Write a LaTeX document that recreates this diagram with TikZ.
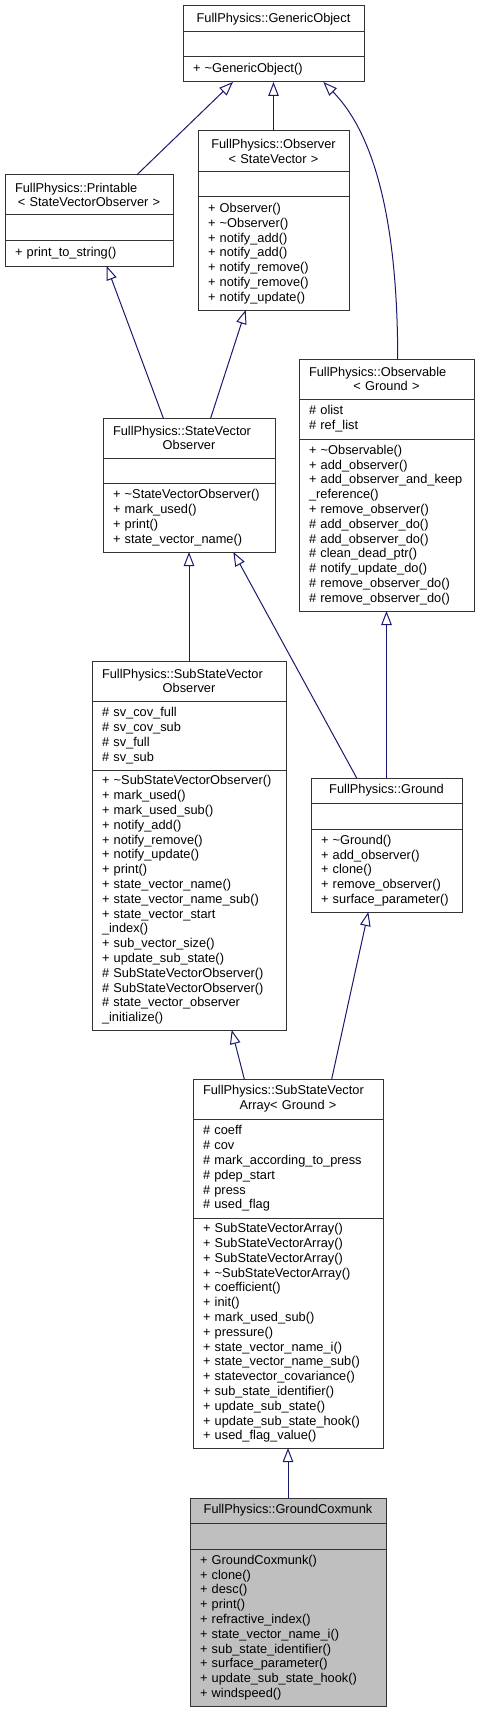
\documentclass[tikz,border=0pt]{standalone}
\usepackage{fontspec}
\setmainfont{Liberation Sans}
\usetikzlibrary{positioning,arrows.meta}
\definecolor{midnightblue}{RGB}{25,25,112}
\definecolor{grey75}{RGB}{191,191,191}
\begin{document}
\begin{tikzpicture}
        [x=1pt,y=-1pt,
        cls/.style={draw=black!80,line width=1pt,fill=white,outer sep=0pt,
            inner xsep=10pt,inner ysep=0pt,anchor=north,
            font=\fontsize{12.8}{14.8}\selectfont},
        ttl/.style={cls,align=center},
        mem/.style={cls,align=left},
        inh/.style={draw=midnightblue,line width=1pt,
            -{Triangle[open,length=14pt,width=10.5pt]}}]
        \useasboundingbox (0,0) rectangle (479,1712);
        % GenericObject
        \node[ttl,text width=161pt,minimum height=26pt] (gobj) at (273.5,6)
            {FullPhysics::GenericObject};
        \node[mem,text width=161pt,minimum height=25pt,below=0pt of gobj] (gobj-a) {};
        \node[mem,text width=161pt,minimum height=25pt,below=0pt of gobj-a] (gobj-m)
            {+ \textasciitilde GenericObject()};
        % Printable
        \node[ttl,text width=148pt,minimum height=40pt] (prt) at (89,175)
            {\makebox[\linewidth][l]{FullPhysics::Printable}\\< StateVectorObserver >};
        \node[mem,text width=148pt,minimum height=26pt,below=0pt of prt] (prt-a) {};
        \node[mem,text width=148pt,minimum height=25pt,below=0pt of prt-a] (prt-m)
            {+ print\_to\_string()};
        % Observer
        \node[ttl,text width=131pt,minimum height=41pt] (obs) at (273.5,131)
            {FullPhysics::Observer\\< StateVector >};
        \node[mem,text width=131pt,minimum height=25pt,below=0pt of obs] (obs-a) {};
        \node[mem,text width=131pt,minimum height=113pt,below=0pt of obs-a] (obs-m)
            {+ Observer()\\+ \textasciitilde Observer()\\+ notify\_add()\\+ notify\_add()\\
            + notify\_remove()\\+ notify\_remove()\\+ notify\_update()};
        % StateVectorObserver
        \node[ttl,text width=152pt,minimum height=40pt] (svo) at (189,418)
            {\makebox[\linewidth][l]{FullPhysics::StateVector}\\Observer};
        \node[mem,text width=152pt,minimum height=25pt,below=0pt of svo] (svo-a) {};
        \node[mem,text width=152pt,minimum height=69pt,below=0pt of svo-a] (svo-m)
            {+ \textasciitilde StateVectorObserver()\\+ mark\_used()\\+ print()\\
            + state\_vector\_name()};
        % Observable
        \node[ttl,text width=155pt,minimum height=40pt] (obl) at (386.5,359)
            {\makebox[\linewidth][l]{FullPhysics::Observable}\\< Ground >};
        \node[mem,text width=155pt,minimum height=40pt,below=0pt of obl] (obl-a)
            {\# olist\\\# ref\_list};
        \node[mem,text width=155pt,minimum height=172pt,below=0pt of obl-a] (obl-m)
            {+ \textasciitilde Observable()\\+ add\_observer()\\+ add\_observer\_and\_keep\\
            \_reference()\\+ remove\_observer()\\\# add\_observer\_do()\\
            \# add\_observer\_do()\\\# clean\_dead\_ptr()\\\# notify\_update\_do()\\
            \# remove\_observer\_do()\\\# remove\_observer\_do()};
        % SubStateVectorObserver
        \node[ttl,text width=174pt,minimum height=40pt] (ssvo) at (189,661)
            {\makebox[\linewidth][l]{FullPhysics::SubStateVector}\\Observer};
        \node[mem,text width=174pt,minimum height=69pt,below=0pt of ssvo] (ssvo-a)
            {\# sv\_cov\_full\\\# sv\_cov\_sub\\\# sv\_full\\\# sv\_sub};
        \node[mem,text width=174pt,minimum height=260pt,below=0pt of ssvo-a] (ssvo-m)
            {+ \textasciitilde SubStateVectorObserver()\\+ mark\_used()\\+ mark\_used\_sub()\\
            + notify\_add()\\+ notify\_remove()\\+ notify\_update()\\+ print()\\
            + state\_vector\_name()\\+ state\_vector\_name\_sub()\\+ state\_vector\_start\\
            \_index()\\+ sub\_vector\_size()\\+ update\_sub\_state()\\
            \# SubStateVectorObserver()\\\# SubStateVectorObserver()\\
            \# state\_vector\_observer\\\_initialize()};
        % Ground
        \node[ttl,text width=131pt,minimum height=25pt] (gnd) at (386.5,778)
            {FullPhysics::Ground};
        \node[mem,text width=131pt,minimum height=26pt,below=0pt of gnd] (gnd-a) {};
        \node[mem,text width=131pt,minimum height=83pt,below=0pt of gnd-a] (gnd-m)
            {+ \textasciitilde Ground()\\+ add\_observer()\\+ clone()\\+ remove\_observer()\\
            + surface\_parameter()};
        % SubStateVectorArray
        \node[ttl,text width=170pt,minimum height=40pt] (ssva) at (288,1079)
            {\makebox[\linewidth][l]{FullPhysics::SubStateVector}\\Array< Ground >};
        \node[mem,text width=170pt,minimum height=99pt,below=0pt of ssva] (ssva-a)
            {\# coeff\\\# cov\\\# mark\_according\_to\_press\\\# pdep\_start\\\# press\\
            \# used\_flag};
        \node[mem,text width=170pt,minimum height=230pt,below=0pt of ssva-a] (ssva-m)
            {+ SubStateVectorArray()\\+ SubStateVectorArray()\\+ SubStateVectorArray()\\
            + \textasciitilde SubStateVectorArray()\\+ coefficient()\\+ init()\\
            + mark\_used\_sub()\\+ pressure()\\+ state\_vector\_name\_i()\\
            + state\_vector\_name\_sub()\\+ statevector\_covariance()\\
            + sub\_state\_identifier()\\+ update\_sub\_state()\\+ update\_sub\_state\_hook()\\
            + used\_flag\_value()};
        % GroundCoxmunk
        \node[ttl,fill=grey75,text width=176pt,minimum height=25pt] (gcx) at (288,1498)
            {FullPhysics::GroundCoxmunk};
        \node[mem,fill=grey75,text width=176pt,minimum height=26pt,below=0pt of gcx] (gcx-a) {};
        \node[mem,fill=grey75,text width=176pt,minimum height=157pt,below=0pt of gcx-a] (gcx-m)
            {+ GroundCoxmunk()\\+ clone()\\+ desc()\\+ print()\\+ refractive\_index()\\
            + state\_vector\_name\_i()\\+ sub\_state\_identifier()\\+ surface\_parameter()\\
            + update\_sub\_state\_hook()\\+ windspeed()};
        % inheritance
        \draw[inh] ([xshift=47.7pt]prt.north) -- ([xshift=-40.5pt]gobj-m.south);
        \draw[inh] (obs.north) -- (gobj-m.south);
        \draw[inh] ([xshift=11.2pt]obl.north) .. controls +(0,-119) and +(57,58)
            .. ([xshift=49.8pt]gobj-m.south);
        \draw[inh] ([xshift=-25.7pt]svo.north) -- ([xshift=17.7pt]prt-m.south);
        \draw[inh] ([xshift=21.7pt]svo.north) -- ([xshift=-27.8pt]obs-m.south);
        \draw[inh] (ssvo.north) -- (svo-m.south);
        \draw[inh] ([xshift=-29.8pt]gnd.north) -- ([xshift=44.3pt]svo-m.south);
        \draw[inh] (gnd.north) -- (obl-m.south);
        \draw[inh] ([xshift=-43.7pt]ssva.north) -- ([xshift=42.7pt]ssvo-m.south);
        \draw[inh] ([xshift=43.7pt]ssva.north) -- ([xshift=-18.2pt]gnd-m.south);
        \draw[inh] (gcx.north) -- (ssva-m.south);
    \end{tikzpicture}
\end{document}
